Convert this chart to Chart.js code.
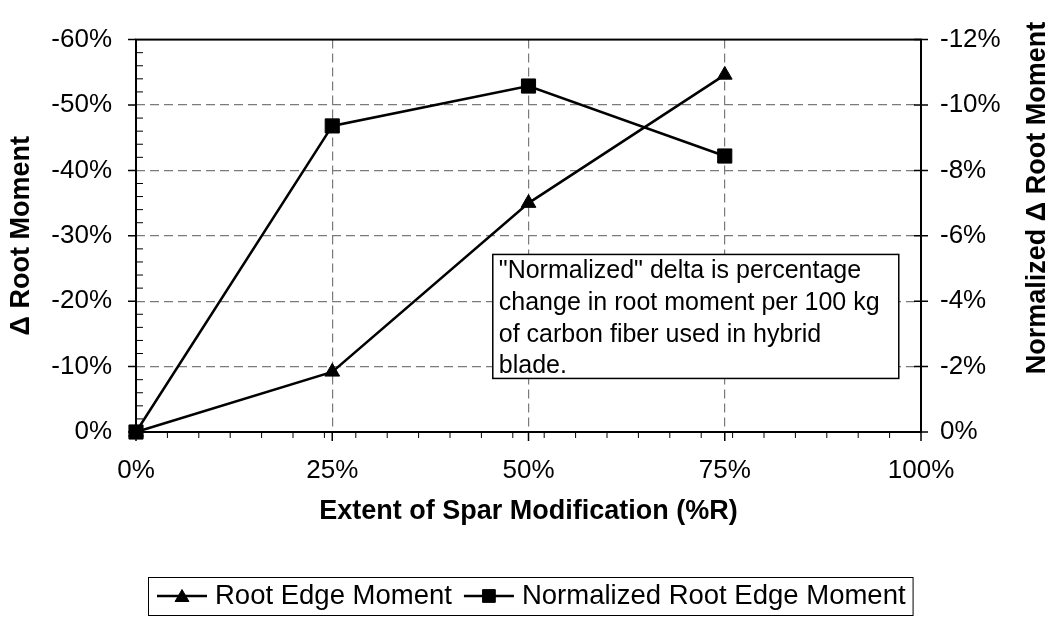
<!DOCTYPE html>
<html>
<head>
<meta charset="utf-8">
<script src="https://cdn.jsdelivr.net/npm/chart.js@4.4.1/dist/chart.umd.min.js"></script>
<style>
  html, body { margin: 0; padding: 0; background: #ffffff; }
  #wrap { width: 1052px; height: 620px; position: relative; }
</style>
</head>
<body>
<div id="wrap"><canvas id="c" width="1052" height="620"></canvas></div>
<script>
// ---------------- data ----------------
const extentPct = [0, 25, 50, 75];                       // x: extent of spar modification (%R)
const rootEdgeMoment = [0, -9.2, -35.0, -54.6];          // left axis (%)
const normalizedRootEdgeMoment = [0, -9.36, -10.58, -8.44]; // right axis (%)
const seriesLabels = ['Root Edge Moment', 'Normalized Root Edge Moment'];
const xTickStep = 25, xMin = 0, xMax = 100, xMinorStep = 4;
const leftTickStep = 10, leftMin = -60, leftMax = 0, leftMinorStep = 2;
const rightTickStep = 2, rightMin = -12, rightMax = 0;
const xTitle = 'Extent of Spar Modification (%R)';
const leftTitle = '\u0394 Root Moment';
const rightTitle = 'Normalized \u0394 Root Moment';
const noteLines = ['"Normalized" delta is percentage', 'change in root moment per 100 kg', 'of carbon fiber used in hybrid', 'blade.'];

// ---------------- styling ----------------
const FONT = "'Liberation Sans', Arial, Helvetica, sans-serif";
Chart.defaults.font.family = FONT;
Chart.defaults.color = '#000';

const pct = v => Math.round(v) + '%';
const GRID = '#7a7a7a';

const decor = {
  id: 'decor',
  beforeDatasetsDraw(chart) {
    const {ctx, chartArea: a, scales: {x, y, y2}} = chart;
    ctx.save();
    ctx.setLineDash([]);
    ctx.strokeStyle = '#000';
    // frame
    ctx.lineWidth = 2;
    ctx.strokeRect(a.left, a.top, a.right - a.left, a.bottom - a.top);
    // left major ticks (outside)
    ctx.lineWidth = 1.5;
    ctx.beginPath();
    y.ticks.forEach(t => {
      const py = y.getPixelForValue(t.value);
      ctx.moveTo(a.left - 8, py); ctx.lineTo(a.left, py);
    });
    // right major ticks (cross)
    y2.ticks.forEach(t => {
      const py = y2.getPixelForValue(t.value);
      ctx.moveTo(a.right - 7, py); ctx.lineTo(a.right + 7, py);
    });
    // x major ticks (outside)
    x.ticks.forEach(t => {
      const px = x.getPixelForValue(t.value);
      ctx.moveTo(px, a.bottom); ctx.lineTo(px, a.bottom + 9);
    });
    ctx.stroke();
    // minor ticks
    ctx.lineWidth = 1;
    ctx.beginPath();
    const nL = Math.round((leftMax - leftMin) / leftMinorStep);
    for (let i = 0; i <= nL; i++) {
      const v = leftMin + i * leftMinorStep;
      if (v % leftTickStep === 0) continue;
      const py = y.getPixelForValue(v);
      ctx.moveTo(a.left, py); ctx.lineTo(a.left + 7, py);
    }
    const nX = Math.round((xMax - xMin) / xMinorStep);
    for (let i = 0; i <= nX; i++) {
      const v = xMin + i * xMinorStep;
      if (v % xTickStep === 0) continue;
      const px = x.getPixelForValue(v);
      ctx.moveTo(px, a.bottom); ctx.lineTo(px, a.bottom + 6);
    }
    ctx.stroke();
    ctx.restore();
  },
  afterDatasetsDraw(chart) {
    const {ctx, scales: {x, y}} = chart;
    // annotation text box (anchored in data space)
    const bx = x.getPixelForValue(45.45), by = y.getPixelForValue(-27.15);
    const bw = 406, bh = 124;
    ctx.save();
    ctx.fillStyle = '#fff';
    ctx.fillRect(bx, by, bw, bh);
    ctx.strokeStyle = '#000';
    ctx.lineWidth = 1.5;
    ctx.strokeRect(bx, by, bw, bh);
    ctx.fillStyle = '#000';
    ctx.font = '25px ' + FONT;
    ctx.textBaseline = 'middle';
    ctx.textAlign = 'left';
    noteLines.forEach((l, i) => ctx.fillText(l, bx + 6, by + 17 + i * 31.7));
    ctx.restore();
  },
  afterDraw(chart) {
    const {ctx} = chart;
    ctx.save();
    // right axis title (reads bottom to top)
    ctx.font = 'bold 27px ' + FONT;
    ctx.fillStyle = '#000';
    ctx.textAlign = 'center';
    ctx.textBaseline = 'middle';
    ctx.translate(1038, 198);
    ctx.rotate(-Math.PI / 2);
    ctx.fillText(rightTitle, 0, 0);
    ctx.restore();

    // legend with border
    ctx.save();
    ctx.font = '27.5px ' + FONT;
    const dsets = chart.data.datasets;
    const left = 148, top = 577, h = 38, cy = top + h / 2;
    let cx = left + 9;
    const items = [];
    dsets.forEach(ds => {
      const lx = cx;
      const tx = lx + 58;
      const tw = ctx.measureText(ds.label).width;
      items.push({ds, lx, tx});
      cx = tx + tw + 12;
    });
    const right = cx - 12 + 7;
    ctx.fillStyle = '#fff';
    ctx.fillRect(left, top, right - left, h);
    ctx.strokeStyle = '#000';
    ctx.lineWidth = 1;
    ctx.strokeRect(left + 0.5, top + 0.5, right - left, h);
    items.forEach(({ds, lx, tx}) => {
      ctx.strokeStyle = '#000';
      ctx.fillStyle = '#000';
      ctx.lineWidth = 2.5;
      ctx.beginPath();
      ctx.moveTo(lx, cy); ctx.lineTo(lx + 50, cy);
      ctx.stroke();
      ctx.lineWidth = 1;
      Chart.helpers.drawPoint(ctx, {pointStyle: ds.pointStyle, radius: ds.pointStyle === 'rect' ? 9 : 8, borderWidth: 1, rotation: 0}, lx + 25, cy + (ds.pointStyle === 'triangle' ? 1.5 : 0));
      ctx.fillStyle = '#000';
      ctx.textBaseline = 'middle';
      ctx.textAlign = 'left';
      ctx.fillText(ds.label, tx, cy);
    });
    ctx.restore();
  }
};

const ctx = document.getElementById('c').getContext('2d');
new Chart(ctx, {
  type: 'line',
  data: {
    datasets: [
      {
        label: seriesLabels[0],
        data: extentPct.map((v, i) => ({x: v, y: rootEdgeMoment[i]})),
        yAxisID: 'y',
        borderColor: '#000', backgroundColor: '#000',
        borderWidth: 2.5, tension: 0,
        pointStyle: 'triangle', pointRadius: 8.5, pointHoverRadius: 8.5,
        pointBorderWidth: 1, pointBackgroundColor: '#000', pointBorderColor: '#000',
        clip: false
      },
      {
        label: seriesLabels[1],
        data: extentPct.map((v, i) => ({x: v, y: normalizedRootEdgeMoment[i]})),
        yAxisID: 'y2',
        borderColor: '#000', backgroundColor: '#000',
        borderWidth: 2.5, tension: 0,
        pointStyle: 'rect', pointRadius: 10, pointHoverRadius: 10,
        pointBorderWidth: 1, pointBackgroundColor: '#000', pointBorderColor: '#000',
        clip: false
      }
    ]
  },
  options: {
    responsive: false,
    animation: false,
    devicePixelRatio: 1,
    events: [],
    layout: { padding: { top: 19, bottom: 88, left: 0, right: 0 } },
    plugins: { legend: { display: false }, tooltip: { enabled: false } },
    scales: {
      x: {
        type: 'linear', position: 'bottom',
        min: xMin, max: xMax,
        ticks: { stepSize: xTickStep, callback: pct, font: { size: 26 }, color: '#000', padding: 23, maxRotation: 0, autoSkip: false },
        grid: {
          color: c => (c.tick && (c.tick.value === xMin || c.tick.value === xMax)) ? 'rgba(0,0,0,0)' : GRID,
          lineWidth: 1.2, drawTicks: false
        },
        border: { display: false, dash: [9, 5] },
        title: { display: true, text: xTitle, font: { size: 27, weight: 'bold' }, color: '#000', padding: { top: 0, bottom: 4 } },
        afterFit: s => { s.height = 100; }
      },
      y: {
        type: 'linear', position: 'left',
        min: leftMin, max: leftMax, reverse: true,
        ticks: { stepSize: leftTickStep, callback: pct, font: { size: 26 }, color: '#000', padding: 24 },
        grid: {
          color: c => (c.tick && (c.tick.value === leftMin || c.tick.value === leftMax)) ? 'rgba(0,0,0,0)' : GRID,
          lineWidth: 1.2, drawTicks: false
        },
        border: { display: false, dash: [9, 5] },
        title: { display: true, text: leftTitle, font: { size: 27, weight: 'bold' }, color: '#000', padding: { top: 5, bottom: 0 } },
        afterFit: s => { s.width = 136; }
      },
      y2: {
        type: 'linear', position: 'right',
        min: rightMin, max: rightMax, reverse: true,
        ticks: { stepSize: rightTickStep, callback: pct, font: { size: 26 }, color: '#000', padding: 19 },
        grid: { display: false, drawOnChartArea: false, drawTicks: false },
        border: { display: false },
        afterFit: s => { s.width = 131; }
      }
    }
  },
  plugins: [decor]
});
</script>
</body>
</html>
